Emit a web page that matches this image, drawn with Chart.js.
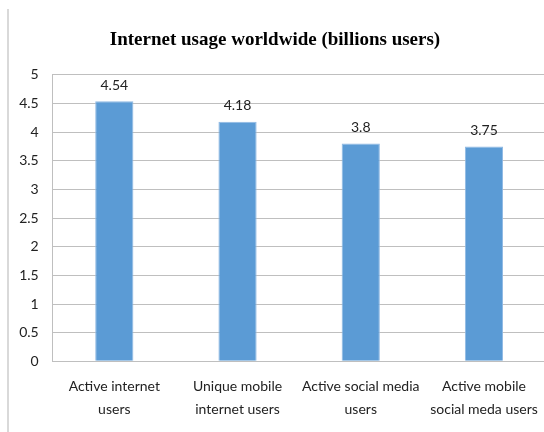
<!DOCTYPE html>
<html>
<head>
<meta charset="utf-8">
<script src="https://cdn.jsdelivr.net/npm/chart.js@4"></script>
<style>
  html, body { margin: 0; padding: 0; background: #fff; overflow: hidden; }
  #wrap { width: 552px; height: 432px; position: relative; }
</style>
</head>
<body>
<div id="wrap"><canvas id="chart"></canvas></div>
<script>
// data
const categories = [
  ['Active internet', 'users'],
  ['Unique mobile', 'internet users'],
  ['Active social media', 'users'],
  ['Active mobile', 'social meda users']
];
const usersBillions = [4.54, 4.18, 3.8, 3.75];
const yTicks = [0, 0.5, 1, 1.5, 2, 2.5, 3, 3.5, 4, 4.5, 5];

const labelFont = { family: 'Lato, "Open Sans", sans-serif', size: 14 };

// value labels above each bar
const valueLabels = {
  id: 'valueLabels',
  afterDatasetsDraw(chart) {
    const ctx = chart.ctx;
    const meta = chart.getDatasetMeta(0);
    ctx.save();
    ctx.font = '14px Lato, "Open Sans", sans-serif';
    ctx.fillStyle = '#222';
    ctx.textAlign = 'center';
    ctx.textBaseline = 'middle';
    meta.data.forEach((bar, i) => {
      ctx.fillText(String(usersBillions[i]), bar.x, bar.y - 16);
    });
    ctx.restore();
  }
};

// thin frame line on the left edge
const frame = {
  id: 'frame',
  beforeDraw(chart) {
    const ctx = chart.ctx;
    ctx.save();
    ctx.strokeStyle = '#d9d9d9';
    ctx.lineWidth = 2;
    ctx.beginPath();
    ctx.moveTo(8, 9);
    ctx.lineTo(8, chart.height);
    ctx.stroke();
    ctx.restore();
  }
};

new Chart(document.getElementById('chart'), {
  type: 'bar',
  data: {
    labels: categories,
    datasets: [{
      data: usersBillions,
      backgroundColor: '#5B9BD5',
      borderColor: '#8fb9e3',
      borderWidth: 1,
      categoryPercentage: 1,
      barPercentage: 0.31
    }]
  },
  options: {
    responsive: true,
    maintainAspectRatio: false,
    animation: false,
    layout: { padding: { left: 0, right: 2, top: 0, bottom: 0 } },
    plugins: {
      legend: { display: false },
      tooltip: { enabled: false },
      title: {
        display: true,
        text: 'Internet usage worldwide (billions users)',
        color: '#000',
        font: { family: '"Liberation Serif", "Times New Roman", serif', size: 19, weight: 'bold', lineHeight: 1.2 },
        padding: { top: 29, bottom: 23 }
      }
    },
    scales: {
      x: {
        grid: { display: false, drawTicks: false },
        border: { display: true, color: '#bfbfbf', width: 1 },
        ticks: {
          color: '#222',
          font: { ...labelFont, lineHeight: 1.65 },
          padding: 14,
          maxRotation: 0,
          autoSkip: false
        },
        afterFit(scale) { scale.height = 70.7; }
      },
      y: {
        min: 0,
        max: 5,
        afterBuildTicks(scale) { scale.ticks = yTicks.map(v => ({ value: v })); },
        grid: { color: '#bfbfbf', lineWidth: 1, drawTicks: false },
        border: { display: true, color: '#bfbfbf', width: 1 },
        ticks: {
          color: '#222',
          font: labelFont,
          padding: 14,
          callback: (v) => String(v)
        },
        afterFit(scale) { scale.width = 52.7; }
      }
    }
  },
  plugins: [valueLabels, frame]
});
</script>
</body>
</html>
